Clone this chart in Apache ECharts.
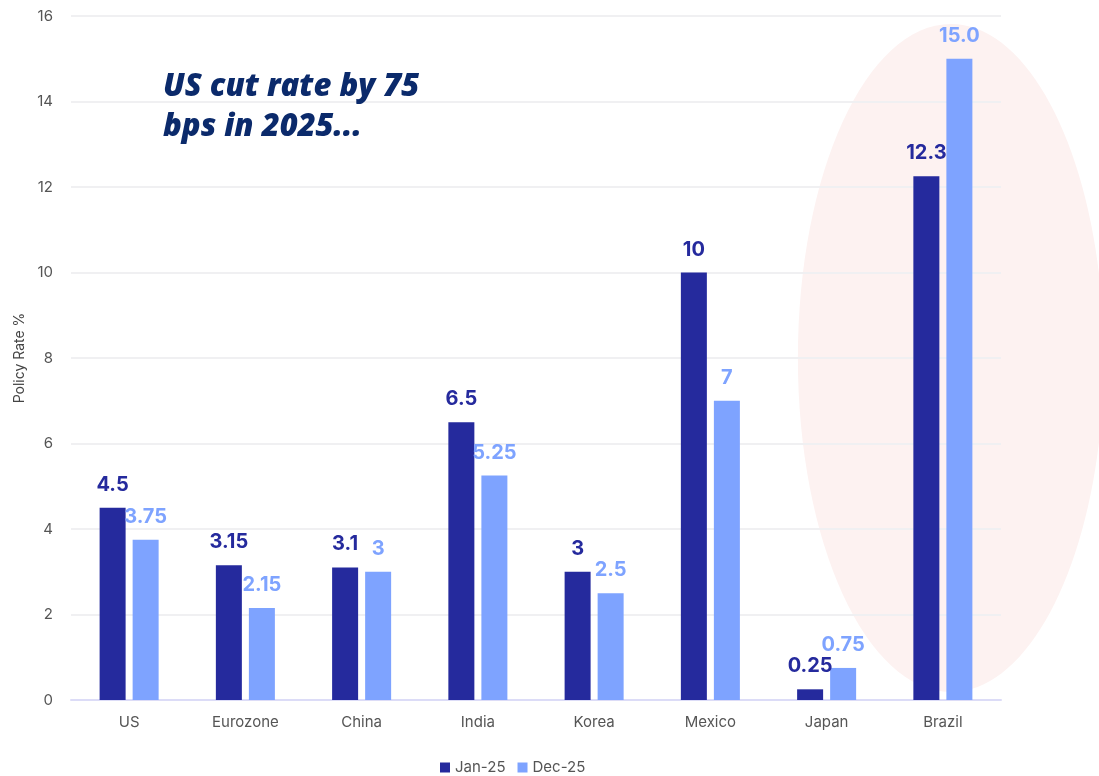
<!DOCTYPE html>
<html>
<head>
<meta charset="utf-8">
<script src="https://cdn.jsdelivr.net/npm/echarts@6/dist/echarts.min.js"></script>
<style>
  html, body { margin: 0; padding: 0; background: #fff; }
  #chart { width: 1099px; height: 776px; }
</style>
</head>
<body>
<div id="chart"></div>
<script>
const countries = ['US', 'Eurozone', 'China', 'India', 'Korea', 'Mexico', 'Japan', 'Brazil'];
const jan25 = [4.5, 3.15, 3.1, 6.5, 3, 10, 0.25, 12.25];
const dec25 = [3.75, 2.15, 3, 5.25, 2.5, 7, 0.75, 15.0];
const janLabels = ['4.5', '3.15', '3.1', '6.5', '3', '10', '0.25', '12.3'];
const decLabels = ['3.75', '2.15', '3', '5.25', '2.5', '7', '0.75', '15.0'];

const JAN_COLOR = '#252a9d';
const DEC_COLOR = '#7ea3ff';
const font = 'Inter, "Noto Sans", sans-serif';

const chart = echarts.init(document.getElementById('chart'));

const labelStyle = (color, texts) => ({
  show: true,
  position: 'top',
  distance: 13,
  color: color,
  fontFamily: font,
  fontWeight: 'bold',
  fontSize: 20,
  formatter: p => texts[p.dataIndex]
});

chart.setOption({
  animation: false,
  grid: { left: 71, right: 98, top: 16, bottom: 76 },
  legend: {
    bottom: -4,
    left: 435,
    itemWidth: 10,
    itemHeight: 10,
    itemGap: 12,
    icon: 'rect',
    textStyle: { color: '#555', fontSize: 15, fontFamily: font },
    data: ['Jan-25', 'Dec-25']
  },
  xAxis: {
    type: 'category',
    data: countries,
    axisLine: { lineStyle: { color: '#dcdcf7', width: 2 } },
    axisTick: { show: false },
    axisLabel: { color: '#555', fontSize: 15, fontFamily: font, margin: 15 }
  },
  yAxis: {
    type: 'value',
    min: 0,
    max: 16,
    interval: 2,
    name: 'Policy Rate %',
    nameLocation: 'middle',
    nameGap: 41,
    nameTextStyle: { color: '#444', fontSize: 14, fontFamily: font },
    axisLine: { show: false },
    axisTick: { show: false },
    axisLabel: { color: '#555', fontSize: 15, fontFamily: font, margin: 18 },
    splitLine: { lineStyle: { color: '#f0f0f2', width: 2 } }
  },
  series: [
    {
      name: 'Jan-25',
      type: 'bar',
      data: jan25,
      barWidth: 26,
      barGap: '27%',
      itemStyle: { color: JAN_COLOR },
      label: labelStyle(JAN_COLOR, janLabels),
      z: 3
    },
    {
      name: 'Dec-25',
      type: 'bar',
      data: dec25,
      barWidth: 26,
      itemStyle: { color: DEC_COLOR },
      label: labelStyle(DEC_COLOR, decLabels),
      z: 3
    }
  ]
});

// highlight ellipse behind Brazil + annotation text
const centre = chart.convertToPixel({ xAxisIndex: 0, yAxisIndex: 0 }, ['Brazil', 8]);
chart.setOption({
  graphic: [
    {
      type: 'ellipse',
      shape: { cx: centre[0] + 8, cy: centre[1], rx: 153, ry: 334 },
      style: { fill: '#fdf2f1' },
      z: -10,
      silent: true
    },
    {
      type: 'text',
      left: 163,
      top: 67,
      style: {
        text: 'US cut rate by 75\nbps in 2025...',
        fill: '#0b2a6b',
        font: 'italic 800 31px "Open Sans", Lato, sans-serif',
        lineHeight: 40
      }
    }
  ]
});

window.addEventListener('resize', () => chart.resize());
</script>
</body>
</html>
